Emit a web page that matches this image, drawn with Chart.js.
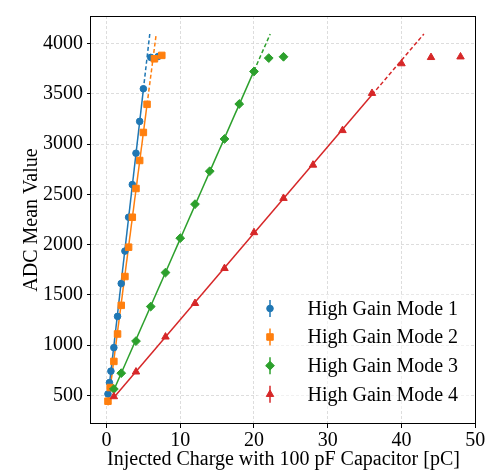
<!DOCTYPE html>
<html><head><meta charset="utf-8">
<script src="https://cdn.jsdelivr.net/npm/chart.js@4/dist/chart.umd.min.js"></script>
<style>html,body{margin:0;padding:0;background:#fff;}#wrap{width:487px;height:472px;}</style>
</head><body><div id="wrap"><canvas id="c" width="487" height="472"></canvas></div>
<script>
// ---- data ----
const X_TICKS = [0, 10, 20, 30, 40, 50];
const Y_TICKS = [500, 1000, 1500, 2000, 2500, 3000, 3500, 4000];
const LABELS = ['High Gain Mode 1', 'High Gain Mode 2', 'High Gain Mode 3', 'High Gain Mode 4'];
const X_TITLE = 'Injected Charge with 100 pF Capacitor [pC]';
const Y_TITLE = 'ADC Mean Value';

const MODE1_X = [0.2, 0.4, 0.6, 1.0, 1.5, 2.0, 2.5, 3.0, 3.5, 4.0, 4.5, 5.0, 6.0, 7.0];
const MODE1_Y = [513, 626, 740, 974, 1285, 1612, 1935, 2272, 2597, 2909, 3226, 3551, 3863, 3872];
const MODE2_X = [0.2, 0.5, 1.0, 1.5, 2.0, 2.5, 3.0, 3.5, 4.0, 4.5, 5.0, 5.5, 6.5, 7.5];
const MODE2_Y = [441, 577, 837, 1110, 1395, 1682, 1974, 2272, 2558, 2837, 3116, 3396, 3849, 3883];
const MODE3_X = [1, 2, 4, 6, 8, 10, 12, 14, 16, 18, 20, 22, 24];
const MODE3_Y = [562, 720, 1039, 1383, 1721, 2064, 2402, 2730, 3051, 3399, 3723, 3856, 3869];
const MODE4_X = [1, 4, 8, 12, 16, 20, 24, 28, 32, 36, 40, 44, 48];
const MODE4_Y = [487, 733, 1081, 1415, 1763, 2120, 2461, 2792, 3136, 3506, 3801, 3863, 3869];
// number of leading points that are in the linear (fitted) range
const FIT_COUNT = [12, 12, 11, 10];
const ADC_FULL_SCALE = 4096;

// ---- styling ----
const COLORS = ['#1f77b4', '#ff7f0e', '#2ca02c', '#d62728'];
const MARKERS = ['circle', 'rect', 'rectRot', 'triangle'];
const MARKER_R = [3.3, 4.6, 4.4, 4.3];
const FONT = 'Liberation Serif';

const SERIES = [[MODE1_X, MODE1_Y], [MODE2_X, MODE2_Y], [MODE3_X, MODE3_Y], [MODE4_X, MODE4_Y]];

function linfit(xs, ys) {
  const n = xs.length;
  let sx = 0, sy = 0, sxx = 0, sxy = 0;
  for (let i = 0; i < n; i++) { sx += xs[i]; sy += ys[i]; sxx += xs[i] * xs[i]; sxy += xs[i] * ys[i]; }
  const m = (n * sxy - sx * sy) / (n * sxx - sx * sx);
  return { m, b: (sy - m * sx) / n };
}

const datasets = [];
SERIES.forEach(([xs, ys], i) => {
  const k = FIT_COUNT[i];
  const f = linfit(xs.slice(0, k), ys.slice(0, k));
  const x0 = xs[0], x1 = xs[k - 1], x2 = (ADC_FULL_SCALE - f.b) / f.m;
  const common = { showLine: true, pointRadius: 0, borderColor: COLORS[i], borderWidth: 1.5, fill: false, order: 20 };
  datasets.push(Object.assign({ data: [{ x: x0, y: f.m * x0 + f.b }, { x: x1, y: f.m * x1 + f.b }] }, common));
  datasets.push(Object.assign({ data: [{ x: x1, y: f.m * x1 + f.b }, { x: x2, y: ADC_FULL_SCALE }], borderDash: [4, 2.5] }, common));
});
SERIES.forEach(([xs, ys], i) => {
  datasets.push({
    label: LABELS[i],
    data: xs.map((x, j) => ({ x, y: ys[j] })),
    showLine: false,
    pointStyle: MARKERS[i],
    pointRadius: MARKER_R[i],
    pointBackgroundColor: COLORS[i],
    pointBorderColor: COLORS[i],
    pointBorderWidth: 1,
    order: 10 - i
  });
});

function drawMarker(ctx, style, x, y, r) {
  Chart.helpers.drawPoint(ctx, { pointStyle: style, radius: r, borderWidth: 1 }, x, y);
}

const deco = {
  id: 'deco',
  afterDraw(chart) {
    const ctx = chart.ctx, a = chart.chartArea;
    ctx.save();
    // legend (white translucent frame, no visible edge)
    const lx = 257.5, ly = 294.5, lw = 213, lh = 115, rr = 4;
    ctx.beginPath();
    ctx.moveTo(lx + rr, ly); ctx.lineTo(lx + lw - rr, ly); ctx.quadraticCurveTo(lx + lw, ly, lx + lw, ly + rr);
    ctx.lineTo(lx + lw, ly + lh - rr); ctx.quadraticCurveTo(lx + lw, ly + lh, lx + lw - rr, ly + lh);
    ctx.lineTo(lx + rr, ly + lh); ctx.quadraticCurveTo(lx, ly + lh, lx, ly + lh - rr);
    ctx.lineTo(lx, ly + rr); ctx.quadraticCurveTo(lx, ly, lx + rr, ly); ctx.closePath();
    ctx.fillStyle = 'rgba(255,255,255,0.6)'; ctx.fill();
    const rowsY = [308.5, 337, 365.7, 394.3];
    LABELS.forEach((t, i) => {
      const mx = 270, my = rowsY[i];
      ctx.strokeStyle = COLORS[i]; ctx.lineWidth = 1.5;
      ctx.beginPath(); ctx.moveTo(mx, my - 8.5); ctx.lineTo(mx, my + 8.5); ctx.stroke();
      ctx.fillStyle = COLORS[i]; ctx.strokeStyle = COLORS[i]; ctx.lineWidth = 1;
      drawMarker(ctx, MARKERS[i], mx, my, MARKER_R[i]);
      ctx.fillStyle = '#000'; ctx.font = '20px "' + FONT + '"';
      ctx.textAlign = 'left'; ctx.textBaseline = 'middle';
      ctx.fillText(t, 307.5, my + 1);
    });
    // frame
    ctx.strokeStyle = '#000'; ctx.lineWidth = 1;
    ctx.strokeRect(Math.round(a.left) - 0.5, Math.round(a.top) + 0.5, Math.round(a.right - a.left), Math.round(a.bottom - a.top) - 1);
    // titles
    ctx.fillStyle = '#000'; ctx.font = '20px "' + FONT + '"';
    ctx.textAlign = 'center'; ctx.textBaseline = 'alphabetic';
    ctx.fillText(X_TITLE, (a.left + a.right) / 2, 465);
    ctx.translate(37, (a.top + a.bottom) / 2); ctx.rotate(-Math.PI / 2);
    ctx.fillText(Y_TITLE, 0, 0);
    ctx.restore();
  }
};

const gridCommon = { color: '#d4d4d4', lineWidth: 0.8, tickColor: '#000', tickLength: 4, tickWidth: 1, drawTicks: true };
new Chart(document.getElementById('c'), {
  type: 'scatter',
  data: { datasets },
  options: {
    responsive: false, animation: false, devicePixelRatio: 1,
    layout: { padding: { left: 0, top: 7, right: 11, bottom: 0 } },
    plugins: { legend: { display: false }, tooltip: { enabled: false } },
    scales: {
      x: {
        type: 'linear', min: -2.1, max: 50.1,
        afterBuildTicks: s => { s.ticks = X_TICKS.map(v => ({ value: v })); },
        afterFit: s => { s.height = 48; },
        grid: gridCommon,
        border: { display: false, dash: [3, 2] },
        ticks: { color: '#000', font: { family: FONT, size: 20 }, padding: 1, maxRotation: 0, autoSkip: false, callback: v => String(v) }
      },
      y: {
        type: 'linear', min: 214, max: 4275,
        afterBuildTicks: s => { s.ticks = Y_TICKS.map(v => ({ value: v })); },
        afterFit: s => { s.width = 91; },
        grid: gridCommon,
        border: { display: false, dash: [3, 2] },
        ticks: { color: '#000', font: { family: FONT, size: 20 }, padding: 4, autoSkip: false, callback: v => String(v) }
      }
    }
  },
  plugins: [deco]
});
</script></body></html>
